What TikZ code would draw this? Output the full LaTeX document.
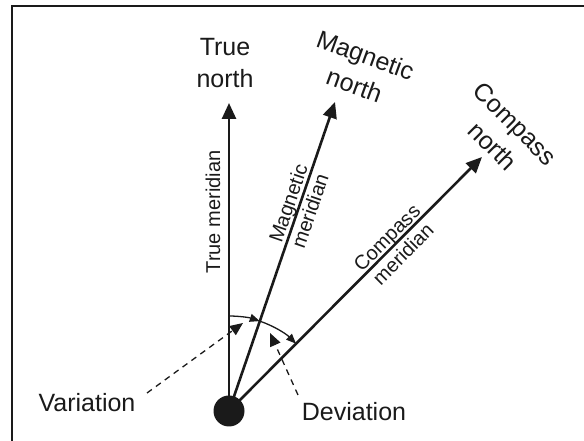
\documentclass[tikz,border=0pt]{standalone}
\usepackage{fontspec}
\setmainfont{Liberation Sans}
\usetikzlibrary{arrows.meta,calc}
\definecolor{ink}{HTML}{1A1A1A}
\begin{document}
\begin{tikzpicture}[x=1pt,y=1pt,
  bigtxt/.style={font=\fontsize{25}{32}\selectfont, text=ink, align=center, inner sep=0pt},
  smalltxt/.style={font=\fontsize{20}{23}\selectfont, text=ink, align=center, inner sep=0pt},
  meridian/.style={draw=ink, line width=2.6pt, -{Triangle[length=16pt,width=14pt]}},
  arcline/.style={draw=ink, line width=1.3pt, -{Triangle[length=10pt,width=8pt]}},
  leader/.style={draw=ink, line width=1.3pt, dash pattern=on 6pt off 5pt, -{Triangle[length=13pt,width=11pt]}},
  frame/.style={draw=ink, line width=2pt}]
\useasboundingbox (0,0) rectangle (584,441);
\draw[frame] (12,-20) -- (12,435) -- (600,435);
% origin
\node[circle, fill=ink, minimum size=31pt, inner sep=0pt] (O) at (229,30) {};
\coordinate (T) at (229,338);
\coordinate (M) at (335,339);
\coordinate (C) at (482,284);
\draw[meridian] (O.center) -- (T);
\draw[meridian] (O.center) -- (M);
\draw[meridian] (O.center) -- (C);
% arcs
\draw[arcline] ($(O.center)+(90:95pt)$) arc[start angle=90, end angle=71.1, radius=95pt];
\draw[arcline] ($(O.center)+(71.1:95pt)$) arc[start angle=71.1, end angle=45.1, radius=95pt];
% labels
\node[bigtxt] (tn) at (225,378) {True\\north};
\node[bigtxt, rotate=-20] (mn) at (360,371) {Magnetic\\north};
\node[bigtxt, rotate=-45] (cn) at (504,306) {Compass\\north};
\node[smalltxt, rotate=90] (tm) at (213,229) {True meridian};
\node[smalltxt, rotate=71] (mm) at (299,234) {Magnetic\\meridian};
\node[smalltxt, rotate=45] (cm) at (395,195) {Compass\\meridian};
\node[bigtxt] (var) at (87,38) {Variation};
\node[bigtxt] (dev) at (354,29) {Deviation};
% leaders
\coordinate (vs) at (147,48);
\coordinate (vt) at (243,118);
\coordinate (ds) at (298,46);
\coordinate (dt) at (270,108);
\draw[leader] (vs) -- (vt);
\draw[leader] (ds) -- (dt);
\end{tikzpicture}
\end{document}
